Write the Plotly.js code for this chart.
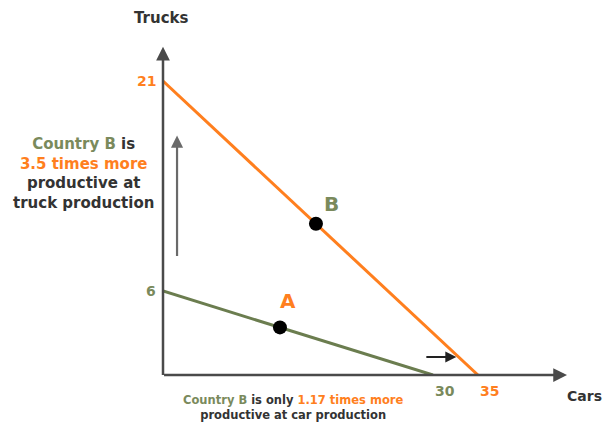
<!DOCTYPE html>
<html>
<head>
<meta charset="utf-8">
<script src="https://cdn.plot.ly/plotly-3.0.1.min.js"></script>
<style>html,body{margin:0;padding:0;background:#fff;}#chart{width:603px;height:423px;}</style>
</head>
<body>
<div id="chart"></div>
<script>
// Production possibilities (intercepts)
const countryACars = [0, 30];
const countryATrucks = [6, 0];
const countryBCars = [0, 35];
const countryBTrucks = [21, 0];
// Marked points on each frontier
const pointLabels = ['A', 'B'];
const pointCars = [13, 17];
const pointTrucks = [3.4, 10.8];
// Intercept labels
const truckTicks = [21, 6];
const carTicks = [30, 35];

const ORANGE = '#ff7f1e';
const GREEN = '#6b7d4f';
const GREEN_TXT = '#7a8a5c';
const DARK = '#333333';
const AX = '#4a4a4a';
const FONT = 'DejaVu Sans, Verdana, sans-serif';

const xMax = 44.9, yMax = 23.93;

const traces = [
  {x: countryBCars, y: countryBTrucks, mode: 'lines', line: {color: ORANGE, width: 3}, cliponaxis: false, hoverinfo: 'skip'},
  {x: countryACars, y: countryATrucks, mode: 'lines', line: {color: GREEN, width: 3}, cliponaxis: false, hoverinfo: 'skip'},
  {x: pointCars, y: pointTrucks, mode: 'markers', marker: {color: '#000', size: 14}, cliponaxis: false, hoverinfo: 'skip'}
];

const ann = [];
// axes with arrowheads
ann.push({x: 0, y: 23.45, ax: 0, ay: -0.1, xref: 'x', yref: 'y', axref: 'x', ayref: 'y', text: '', showarrow: true, arrowhead: 2, arrowsize: 1.1, arrowwidth: 2.5, arrowcolor: AX, standoff: 0});
ann.push({x: xMax, y: 0, ax: -0.05, ay: 0, xref: 'x', yref: 'y', axref: 'x', ayref: 'y', text: '', showarrow: true, arrowhead: 2, arrowsize: 1.1, arrowwidth: 2.5, arrowcolor: AX, standoff: 0});
// up arrow and right arrow
ann.push({x: 1.56, y: 17.1, ax: 1.56, ay: 8.4, xref: 'x', yref: 'y', axref: 'x', ayref: 'y', text: '', showarrow: true, arrowhead: 2, arrowsize: 1.1, arrowwidth: 2.2, arrowcolor: '#6a6a6a', standoff: 0});
ann.push({x: 32.6, y: 1.29, ax: 29.1, ay: 1.29, xref: 'x', yref: 'y', axref: 'x', ayref: 'y', text: '', showarrow: true, arrowhead: 2, arrowsize: 1.1, arrowwidth: 2, arrowcolor: '#222', standoff: 0});

// intercept labels
const tickColorsY = [ORANGE, GREEN_TXT];
truckTicks.forEach((v, i) => ann.push({x: 0, y: v, xref: 'x', yref: 'y', text: '<b>' + v + '</b>', showarrow: false, xanchor: 'right', yanchor: 'middle', xshift: -5, yshift: 0, font: {family: FONT, size: 14, color: tickColorsY[i]}}));
const tickColorsX = [GREEN_TXT, ORANGE];
carTicks.forEach((v, i) => ann.push({x: v, y: 0, xref: 'x', yref: 'y', text: '<b>' + v + '</b>', showarrow: false, xanchor: 'center', yanchor: 'middle', xshift: 12, yshift: -16, font: {family: FONT, size: 14, color: tickColorsX[i]}}));

// point labels
const pointLabelColors = [ORANGE, GREEN_TXT];
const pointShifts = [[8, 26], [16, 20]];
pointLabels.forEach((t, i) => ann.push({x: pointCars[i], y: pointTrucks[i], xref: 'x', yref: 'y', text: '<b>' + t + '</b>', showarrow: false, xanchor: 'center', yanchor: 'middle', xshift: pointShifts[i][0], yshift: pointShifts[i][1], font: {family: FONT, size: 20, color: pointLabelColors[i]}}));

// axis titles
ann.push({x: 161, y: 18, xref: 'paper', yref: 'paper', text: '<b>Trucks</b>', showarrow: false, font: {family: FONT, size: 15, color: DARK}});
ann.push({x: 584, y: 396, xref: 'paper', yref: 'paper', text: '<b>Cars</b>', showarrow: false, font: {family: FONT, size: 14, color: DARK}});

// explanatory texts
ann.push({x: 83, y: 173, xref: 'paper', yref: 'paper', align: 'center',
  text: '<b><span style="color:' + GREEN_TXT + '">Country B</span> is<br><span style="color:' + ORANGE + '">3.5 times more</span><br>productive at<br>truck production</b>',
  showarrow: false, font: {family: FONT, size: 15, color: DARK}});
ann.push({x: 293, y: 407, xref: 'paper', yref: 'paper', align: 'center',
  text: '<b><span style="color:' + GREEN_TXT + '">Country B</span> is only <span style="color:' + ORANGE + '">1.17 times more</span><br>productive at car production</b>',
  showarrow: false, font: {family: FONT, size: 11.5, color: DARK}});

// convert paper pixel coords
ann.forEach(a => {
  if (a.xref === 'paper') {
    a.x = (a.x - 163) / 404;
    a.y = (375 - a.y) / 335;
    a.xanchor = 'center';
    a.yanchor = 'middle';
  }
});

const layout = {
  width: 603, height: 423,
  margin: {l: 163, r: 36, t: 40, b: 48, pad: 0},
  paper_bgcolor: '#fff', plot_bgcolor: '#fff',
  showlegend: false,
  xaxis: {range: [0, xMax], showgrid: false, zeroline: false, showline: false, showticklabels: false, ticks: '', fixedrange: true},
  yaxis: {range: [0, yMax], showgrid: false, zeroline: false, showline: false, showticklabels: false, ticks: '', fixedrange: true},
  annotations: ann
};

Plotly.newPlot('chart', traces, layout, {displayModeBar: false, staticPlot: true});
</script>
</body>
</html>
